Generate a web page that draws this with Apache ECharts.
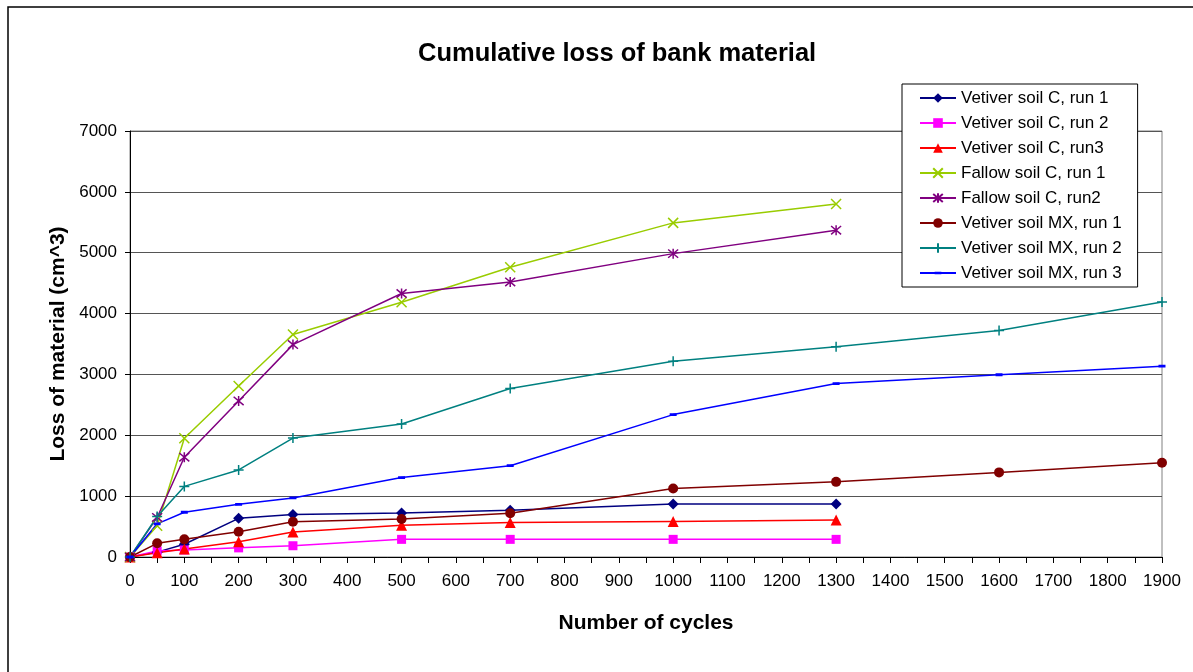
<!DOCTYPE html>
<html>
<head>
<meta charset="utf-8">
<script src="https://cdn.jsdelivr.net/npm/echarts@6/dist/echarts.min.js"></script>
<style>
  html, body { margin: 0; padding: 0; background: #fff; }
  #chart { width: 1193px; height: 672px; }
</style>
</head>
<body>
<div id="chart"></div>
<script>
// Cycle counts at which the bank loss was measured
const cyclesC = [0, 50, 100, 200, 300, 500, 700, 1000, 1300];
const cyclesMX = [0, 50, 100, 200, 300, 500, 700, 1000, 1300, 1600, 1900];

// Cumulative loss of material (cm^3)
const vetiverC1 = [0, 80, 210, 635, 700, 725, 770, 870, 870];
const vetiverC2 = [0, 100, 115, 150, 185, 290, 290, 290, 290];
const vetiverC3 = [0, 70, 130, 250, 410, 520, 565, 585, 610];
const fallowC1 = [0, 515, 1950, 2810, 3655, 4185, 4760, 5490, 5800];
const fallowC2 = [0, 650, 1640, 2565, 3490, 4330, 4520, 4985, 5370];
const vetiverMX1 = [0, 225, 290, 415, 580, 625, 720, 1125, 1235, 1390, 1550];
const vetiverMX2 = [0, 665, 1160, 1430, 1955, 2185, 2770, 3215, 3455, 3720, 4190];
const vetiverMX3 = [0, 545, 735, 865, 970, 1305, 1500, 2340, 2850, 2995, 3135];

const seriesNames = [
  'Vetiver soil C, run 1', 'Vetiver soil C, run 2', 'Vetiver soil C, run3',
  'Fallow soil C, run 1', 'Fallow soil C, run2',
  'Vetiver soil MX, run 1', 'Vetiver soil MX, run 2', 'Vetiver soil MX, run 3'
];

const FONT = "'Liberation Sans', Arial, sans-serif";
const pair = (xs, ys) => ys.map((y, i) => [xs[i], y]);

// Marker shapes
const X_MARK = 'path://M0,0L10,10M10,0L0,10';
const STAR_MARK = 'path://M0,0L10,10M10,0L0,10M5,-1L5,11';
const PLUS_MARK = 'path://M5,0L5,10M0,5L10,5';
// short horizontal dash inside a 10x10 box (the corner stubs only fix the box)
const DASH_MARK = 'path://M0,0L0.01,0M0,10L0.01,10M10,0L10.01,0M1.5,3.6L8.5,3.6L8.5,6.4L1.5,6.4Z';

function makeSeries(name, xs, ys, color, symbol, size, stroked) {
  return {
    name: name,
    type: 'line',
    data: pair(xs, ys),
    symbol: symbol,
    symbolSize: size,
    showAllSymbol: true,
    lineStyle: { color: color, width: 1.5 },
    itemStyle: stroked
      ? { color: color, borderColor: color, borderWidth: 1.5 }
      : { color: color, borderWidth: 0 },
    emphasis: { disabled: true },
    animation: false
  };
}

const chart = echarts.init(document.getElementById('chart'), null, { renderer: 'canvas' });

chart.setOption({
  backgroundColor: '#ffffff',
  animation: false,
  textStyle: { fontFamily: FONT },
  graphic: [{
    type: 'rect',
    shape: { x: 8, y: 7, width: 1210, height: 700 },
    style: { fill: 'none', stroke: '#000', lineWidth: 1.5 },
    z: -10
  }],
  title: {
    text: 'Cumulative loss of bank material',
    left: 413,
    top: 36,
    textStyle: { fontFamily: FONT, fontSize: 25.5, fontWeight: 'bold', color: '#000' }
  },
  grid: {
    left: 130, right: 31, top: 131, bottom: 115,
    show: true, borderColor: '#808080', borderWidth: 1, backgroundColor: 'transparent'
  },
  legend: {
    orient: 'vertical',
    left: 902,
    top: 84,
    padding: [4, 16, 4, 17],
    backgroundColor: '#fff',
    borderColor: '#000',
    borderWidth: 1,
    itemWidth: 36,
    itemHeight: 12,
    itemGap: 5,
    textStyle: { fontFamily: FONT, fontSize: 17, color: '#000', lineHeight: 20 },
    data: seriesNames
  },
  xAxis: {
    type: 'value',
    min: 0, max: 1900, interval: 50,
    name: 'Number of cycles',
    nameLocation: 'middle',
    nameGap: 56,
    nameTextStyle: { fontFamily: FONT, fontSize: 21, fontWeight: 'bold', color: '#000' },
    axisLine: { show: true, onZero: false, lineStyle: { color: '#000', width: 1 } },
    axisTick: { show: true, inside: false, length: 6, lineStyle: { color: '#000' } },
    axisLabel: {
      fontFamily: FONT, fontSize: 17, color: '#000', margin: 16,
      formatter: v => (v % 100 === 0 ? String(v) : '')
    },
    splitLine: { show: false }
  },
  yAxis: {
    type: 'value',
    min: 0, max: 7000, interval: 1000,
    name: 'Loss of material (cm^3)',
    nameLocation: 'middle',
    nameGap: 57,
    nameTextStyle: { fontFamily: FONT, fontSize: 21, fontWeight: 'bold', color: '#000' },
    axisLine: { show: true, lineStyle: { color: '#000', width: 1 } },
    axisTick: { show: true, inside: false, length: 5, lineStyle: { color: '#000' } },
    axisLabel: {
      fontFamily: FONT, fontSize: 17, color: '#000', margin: 13,
      formatter: v => String(v)
    },
    splitLine: { show: true, lineStyle: { color: '#555', width: 1 } }
  },
  series: [
    makeSeries(seriesNames[0], cyclesC, vetiverC1, '#000080', 'diamond', 11, false),
    makeSeries(seriesNames[1], cyclesC, vetiverC2, '#FF00FF', 'rect', 9, false),
    makeSeries(seriesNames[2], cyclesC, vetiverC3, '#FF0000', 'triangle', 11, false),
    makeSeries(seriesNames[3], cyclesC, fallowC1, '#99CC00', X_MARK, 10, true),
    makeSeries(seriesNames[4], cyclesC, fallowC2, '#800080', STAR_MARK, 10, true),
    makeSeries(seriesNames[5], cyclesMX, vetiverMX1, '#800000', 'circle', 10, false),
    makeSeries(seriesNames[6], cyclesMX, vetiverMX2, '#008080', PLUS_MARK, 10, true),
    makeSeries(seriesNames[7], cyclesMX, vetiverMX3, '#0000FF', DASH_MARK, 10, false)
  ]
});
</script>
</body>
</html>
